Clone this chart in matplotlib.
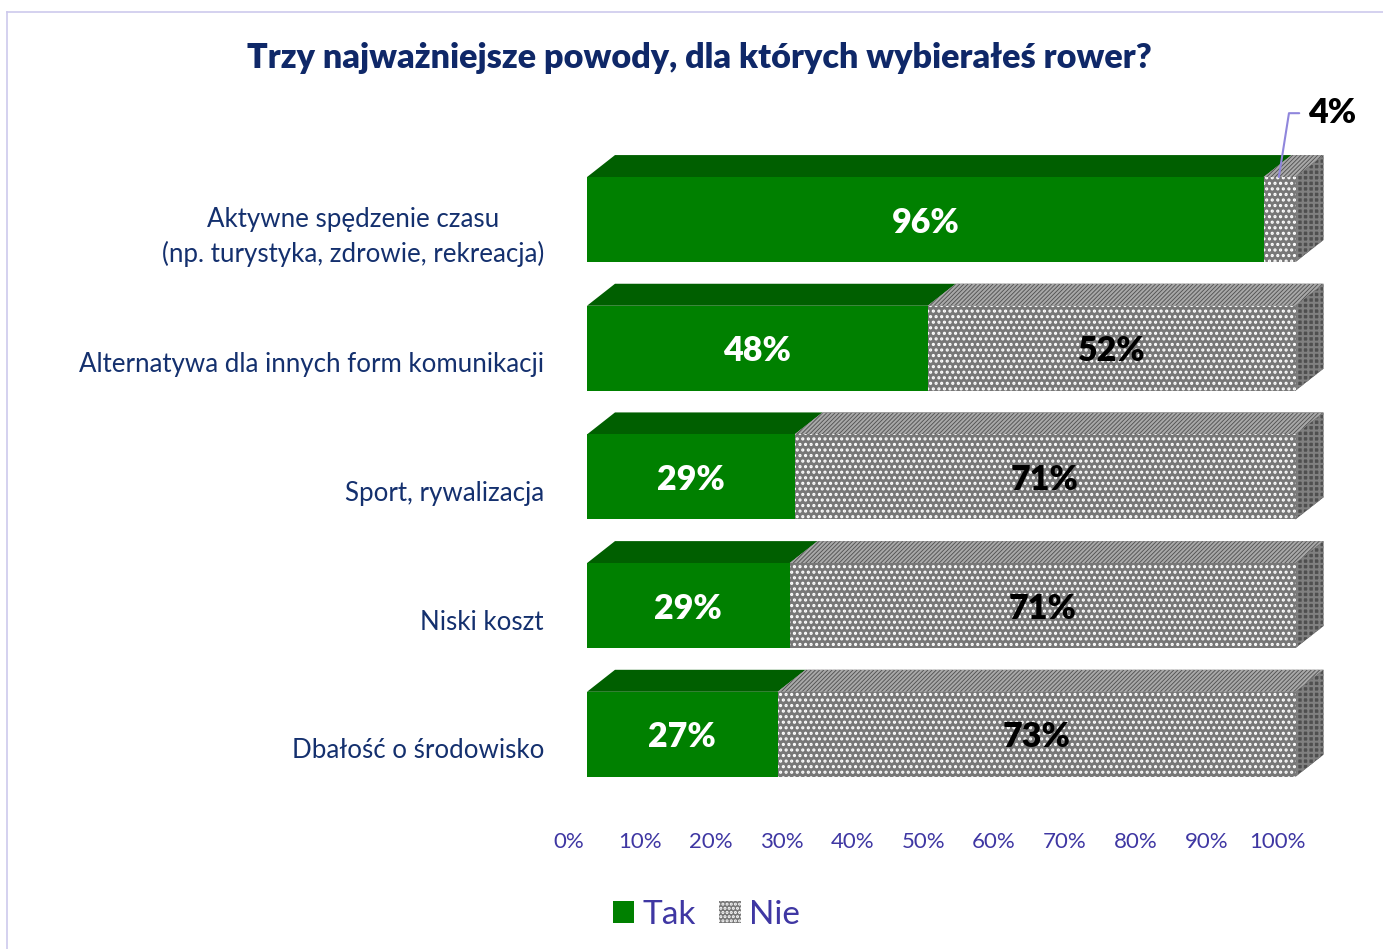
import matplotlib
matplotlib.use("Agg")
import matplotlib.pyplot as plt
from matplotlib.lines import Line2D
from matplotlib.patches import Patch, Polygon
from matplotlib.transforms import ScaledTranslation

plt.rcParams["font.family"] = ["Lato", "DejaVu Sans"]
plt.rcParams["hatch.linewidth"] = 1.5

###data###
powody = ["Aktywne spędzenie czasu\n(np. turystyka, zdrowie, rekreacja)",
          "Alternatywa dla innych form komunikacji",
          "Sport, rywalizacja",
          "Niski koszt",
          "Dbałość o środowisko"]
tak = [95.5, 48.1, 29.3, 28.6, 26.9]
nie = [4.5, 51.9, 70.7, 71.4, 73.1]
tak_labels = ["96%", "48%", "29%", "29%", "27%"]
nie_labels = ["4%", "52%", "71%", "71%", "73%"]
x_ticks = [0, 10, 20, 30, 40, 50, 60, 70, 80, 90, 100]

###couleurs###
VERT = "#008000"
VERT_FONCE = "#005f00"
GRIS = "#777777"
GRIS_FONCE = "#4f4f4f"
BLEU_TITRE = "#0f2868"
BLEU_CAT = "#14306e"
VIOLET = "#3f37a3"

W, H = 1383, 949
fig = plt.figure(figsize=(W / 100, H / 100), dpi=100)
# axes calees sur la face avant des barres
ax = fig.add_axes([587 / W, 1 - 798.6 / H, 708.5 / W, (798.6 - 155.2) / H])
ax.set_xlim(0, 100)
ax.set_ylim(4.5, -0.5)

h = 0.33      # demi hauteur de barre
dx = 3.95     # profondeur 3D
dy = 0.171


def face_avant(x0, x1, y, **kw):
    ax.add_patch(Polygon([(x0, y - h), (x1, y - h), (x1, y + h), (x0, y + h)], clip_on=False, **kw))


def face_haut(x0, x1, y, **kw):
    ax.add_patch(Polygon([(x0, y - h), (x1, y - h), (x1 + dx, y - h - dy), (x0 + dx, y - h - dy)], clip_on=False, **kw))


def face_cote(x, y, **kw):
    ax.add_patch(Polygon([(x, y - h), (x + dx, y - h - dy), (x + dx, y + h - dy), (x, y + h)], clip_on=False, **kw))


for i in range(len(powody)):
    fin = tak[i] + nie[i]
    face_haut(0, tak[i], i, facecolor=VERT_FONCE, edgecolor="none", zorder=2)
    face_haut(tak[i], fin, i, facecolor=GRIS_FONCE, edgecolor="#a8a8a8", hatch="////////", linewidth=0, zorder=2)
    face_cote(fin, i, facecolor=GRIS_FONCE, edgecolor="#808080", hatch="+++", linewidth=0, zorder=2)
    face_avant(tak[i], fin, i, facecolor=GRIS, edgecolor="white", hatch="...", linewidth=0, zorder=3)
    face_avant(0, tak[i], i, facecolor=VERT, edgecolor="none", zorder=4)

    ax.text(tak[i] / 2, i + 0.025, tak_labels[i], color="white", fontsize=24.5, fontweight="heavy",
            ha="center", va="center", zorder=5)
    if i > 0:
        ax.text(tak[i] + nie[i] / 2, i + 0.025, nie_labels[i], color="black", fontsize=24.5, fontweight="heavy",
                ha="center", va="center", zorder=5)

# etiquette 4% avec son trait
ax.annotate(nie_labels[0], xy=(tak[0] + nie[0] / 2 - 0.1, -h), xytext=(38, 46), textcoords="offset points",
            color="black", fontsize=24.5, fontweight="heavy", ha="center", va="center", zorder=6, annotation_clip=False,
            arrowprops=dict(arrowstyle="-", color="#8f86dc", linewidth=1.5, relpos=(0, 0.5), shrinkA=6, shrinkB=0,
                            patchA=None, connectionstyle="angle,angleA=180,angleB=81,rad=0"))

###axes###
for s in ax.spines.values():
    s.set_visible(False)
ax.set_xticks(x_ticks)
ax.set_xticklabels([f"{v}%" for v in x_ticks], color=VIOLET, fontsize=16)
ax.tick_params(axis="x", length=0, pad=24)
ax.set_yticks(range(len(powody)))
ax.set_yticklabels(powody, color=BLEU_CAT, fontsize=18.6, ha="right", linespacing=1.42, multialignment="center")
ax.tick_params(axis="y", length=0, pad=31)

dec_x = ScaledTranslation(-18 / 100, 0, fig.dpi_scale_trans)
for t in ax.get_xticklabels():
    t.set_transform(t.get_transform() + dec_x)
dec_y = ScaledTranslation(0, -14 / 100, fig.dpi_scale_trans)
for t in ax.get_yticklabels():
    t.set_transform(t.get_transform() + dec_y)
# le libelle sur deux lignes est un peu plus haut
premier = ax.get_yticklabels()[0]
premier.set_transform(premier.get_transform() + ScaledTranslation(0, 3 / 100, fig.dpi_scale_trans))

###titre###
fig.text(699.5 / W, 1 - 57.5 / H, "Trzy najważniejsze powody, dla których wybierałeś rower?", color=BLEU_TITRE,
         fontsize=24.6, fontweight="heavy", ha="center", va="center")

###legende###
poignees = [Patch(facecolor=VERT, edgecolor="none"),
            Patch(facecolor=GRIS, edgecolor="white", hatch="....", linewidth=0)]
fig.legend(poignees, ["Tak", "Nie"], loc="center", bbox_to_anchor=(706.5 / W, 1 - 915 / H), ncol=2, frameon=False,
           fontsize=24, labelcolor=VIOLET, handlelength=0.65, handleheight=0.65, handletextpad=0.25,
           columnspacing=0.7)

###cadre###
fig.add_artist(Line2D([7 / W, 7 / W], [0, 1 - 12 / H], color="#cdc9ec", linewidth=1.2))
fig.add_artist(Line2D([7 / W, 1], [1 - 12 / H, 1 - 12 / H], color="#cdc9ec", linewidth=1.2))

plt.savefig("out.png", dpi=100)
